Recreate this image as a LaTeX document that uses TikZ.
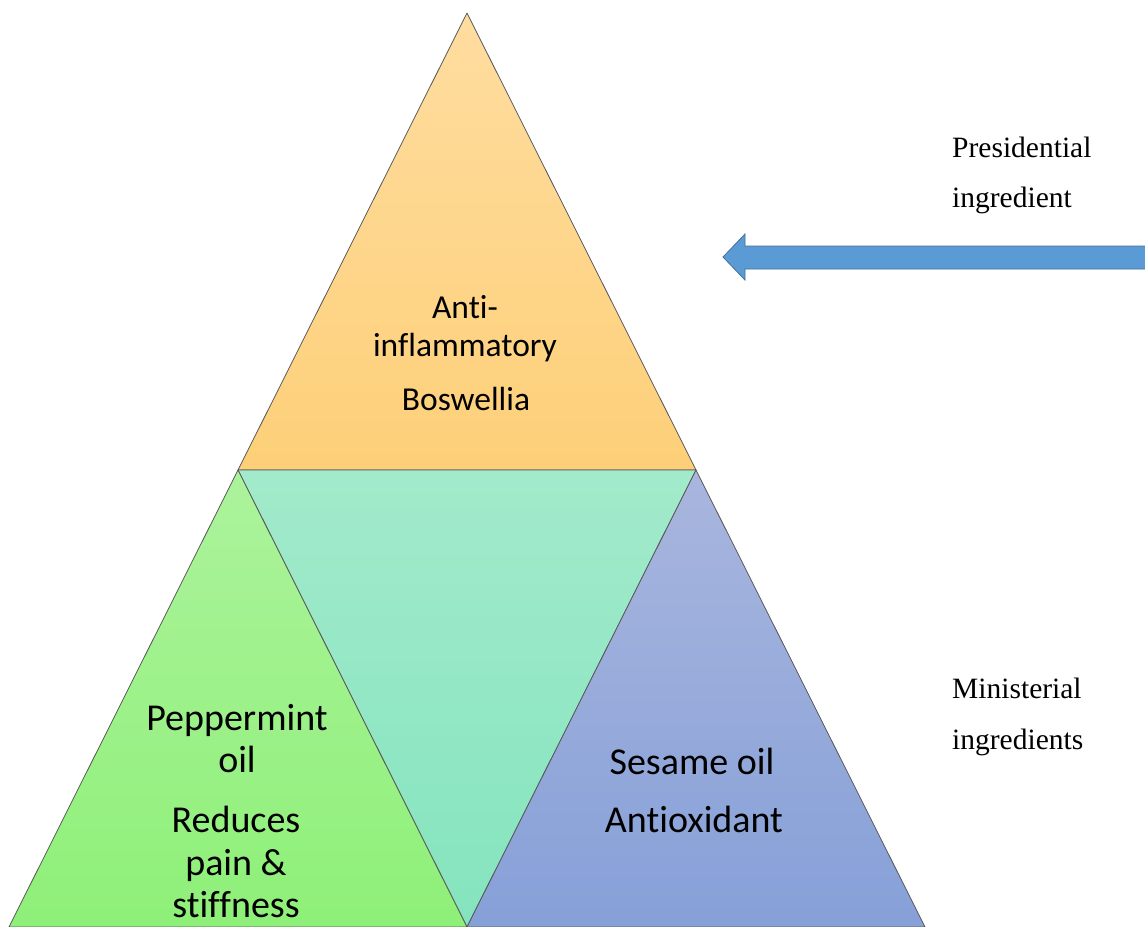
\documentclass[tikz,border=0pt]{standalone}
\usepackage{fontspec}
\setmainfont{Liberation Serif}
\newfontfamily\calfont[Ligatures=NoCommon]{Carlito}
\begin{document}
\begin{tikzpicture}[x=1pt,y=-1pt,
  tri/.style={draw=black!65, line width=0.8pt, line join=round},
  inner/.style={font=\calfont\fontsize{38}{42}\selectfont, anchor=base, inner sep=0pt},
  topinner/.style={font=\calfont\fontsize{33.5}{37}\selectfont, anchor=base, inner sep=0pt},
  side/.style={font=\fontsize{29.5}{32}\selectfont, anchor=base west, inner sep=0pt},
  blockarrow/.style={fill=arrowblue, draw=arrowedge, line width=0.8pt, line join=miter}]
\definecolor{arrowblue}{HTML}{5B9BD5}
\definecolor{arrowedge}{HTML}{41719C}
\useasboundingbox (0,0) rectangle (1145,926);
\begin{scope}
\clip (0,0) rectangle (1145,926);
% named corners
\coordinate (apex) at (467,13);
\coordinate (tl) at (238,470);
\coordinate (tr) at (696,470);
\coordinate (bl) at (9,927);
\coordinate (bm) at (467,927);
\coordinate (br) at (925,927);
% top triangle
\shade[tri, top color={rgb,255:red,255;green,221;blue,160}, bottom color={rgb,255:red,253;green,207;blue,120}] (apex) -- (tr) -- (tl) -- cycle;
% middle inverted triangle
\shade[tri, top color={rgb,255:red,162;green,234;blue,203}, bottom color={rgb,255:red,132;green,228;blue,190}] (tl) -- (tr) -- (bm) -- cycle;
% left triangle
\shade[tri, top color={rgb,255:red,172;green,243;blue,156}, bottom color={rgb,255:red,142;green,240;blue,120}] (tl) -- (bm) -- (bl) -- cycle;
% right triangle
\shade[tri, top color={rgb,255:red,169;green,182;blue,222}, bottom color={rgb,255:red,134;green,160;blue,216}] (tr) -- (br) -- (bm) -- cycle;
% arrow
\draw[blockarrow] (723,257) -- (745,234) -- (745,246) -- (1150,246) -- (1150,269) -- (745,269) -- (745,280) -- cycle;
\end{scope}
% top triangle text
\node[topinner] (t1) at (465,318) {Anti-};
\node[topinner] (t2) at (465,356) {inflammatory};
\node[topinner] (t3) at (466,410) {Boswellia};
% left triangle text
\node[inner] (l1) at (237,730) {Peppermint};
\node[inner] (l2) at (237,772) {oil};
\node[inner] (l3) at (236,832) {Reduces};
\node[inner] (l4) at (236,875) {pain \&};
\node[inner] (l5) at (236,917) {stiffness};
% right triangle text
\node[inner] (r1) at (692,774) {Sesame oil};
\node[inner] (r2) at (694,832) {Antioxidant};
% side labels
\node[side] (p1) at (952,157) {Presidential};
\node[side] (p2) at (952,207) {ingredient};
\node[side] (m1) at (952,698) {Ministerial};
\node[side] (m2) at (952,749) {ingredients};
\end{tikzpicture}
\end{document}
